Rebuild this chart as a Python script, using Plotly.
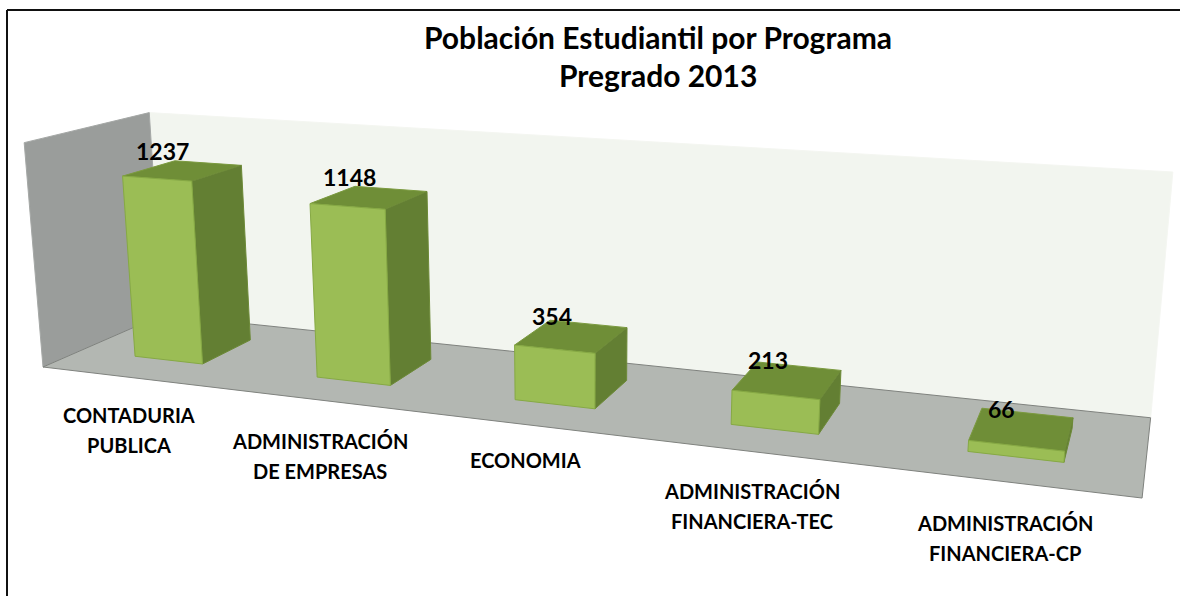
import plotly.graph_objects as go

# ---- data ----
categories = ["CONTADURIA\nPUBLICA", "ADMINISTRACIÓN\nDE EMPRESAS", "ECONOMIA",
              "ADMINISTRACIÓN\nFINANCIERA-TEC", "ADMINISTRACIÓN\nFINANCIERA-CP"]
values = [1237, 1148, 354, 213, 66]
title_lines = ["Población Estudiantil por Programa", "Pregrado 2013"]
axis_max = 1500

# ---- perspective camera used by the 3-D look of the chart ----
FOCAL, CX, CY = 1809.0, 578.0, 373.0
ORIGIN = (-535.0, -6.0, 1809.0)
X_VEC = (983.4, 105.4, -371.0)
D_VEC = (72.0, -58.7, 206.0)
H_VEC = (0.0, -216.5, -61.5)


def project(cat_pos, depth, value):
    """cat_pos in category units (0..n), depth 0..1, value in data units."""
    t, h = cat_pos / len(values), value / axis_max
    p = [ORIGIN[k] + t * X_VEC[k] + depth * D_VEC[k] + h * H_VEC[k] for k in range(3)]
    return CX + FOCAL * p[0] / p[2], CY + FOCAL * p[1] / p[2]


def face(corners, fill, line=None, width=1):
    pts = [project(*c) for c in corners + corners[:1]]
    return go.Scatter(x=[p[0] for p in pts], y=[p[1] for p in pts], mode="lines",
                      fill="toself", fillcolor=fill,
                      line=dict(color=line or fill, width=width),
                      hoverinfo="skip", showlegend=False)


fig = go.Figure()
n = len(values)
# walls and floor
fig.add_trace(face([(0, 1, 0), (n, 1, 0), (n, 1, axis_max), (0, 1, axis_max)], "#f2f5ef", "#f4f6f1"))
fig.add_trace(face([(0, 0, 0), (0, 1, 0), (0, 1, axis_max), (0, 0, axis_max)], "#9a9d9b", "#a5a8a6"))
fig.add_trace(face([(0, 0, 0), (n, 0, 0), (n, 1, 0), (0, 1, 0)], "#b3b7b2", "#7f827e"))

BAR_HALF = 0.19
D0, D1 = 0.30, 0.74
for i, v in enumerate(values):
    c = i + 0.5
    l, r = c - BAR_HALF, c + BAR_HALF
    fig.add_trace(face([(l, D0, v), (r, D0, v), (r, D1, v), (l, D1, v)], "#6f8e37", "#7b9a3f"))
    fig.add_trace(face([(r, D0, 0), (r, D1, 0), (r, D1, v), (r, D0, v)], "#637f33", "#6d8a38"))
    fig.add_trace(face([(l, D0, 0), (r, D0, 0), (r, D0, v), (l, D0, v)], "#9bbd55", "#86a944"))

annotations = []
FONT = "Lato, Carlito, 'Open Sans', sans-serif"
# data labels
for i, v in enumerate(values):
    px, py = project(i + 0.5, 0.52, v)
    annotations.append(dict(x=px, y=py, xref="x", yref="y", text=f"<b>{v}</b>", showarrow=False,
                            xshift=-20, yshift=20, font=dict(family=FONT, size=23, color="#000")))
# category labels (placed under the sloping floor edge)
LABEL_POS = [(129, 415), (320, 441), (525, 460), (752, 491), (1005, 523)]
LINE_GAP = 30
for cat, (lx, ly) in zip(categories, LABEL_POS):
    for k, part in enumerate(cat.split("\n")):
        annotations.append(dict(x=lx, y=ly + k * LINE_GAP, xref="x", yref="y", text=f"<b>{part}</b>",
                                showarrow=False, font=dict(family=FONT, size=20, color="#000")))
# title
for k, part in enumerate(title_lines):
    annotations.append(dict(x=658, y=37 + k * 38, xref="x", yref="y", text=f"<b>{part}</b>",
                            showarrow=False, font=dict(family=FONT, size=30, color="#000")))

fig.update_layout(
    width=1180, height=596, margin=dict(l=0, r=0, t=0, b=0),
    paper_bgcolor="white", plot_bgcolor="white", showlegend=False,
    xaxis=dict(range=[0, 1180], visible=False, fixedrange=True),
    yaxis=dict(range=[596, 0], visible=False, fixedrange=True),
    annotations=annotations,
    shapes=[
        dict(type="line", x0=7, x1=7, y0=10, y1=596, line=dict(color="#111", width=2)),
        dict(type="line", x0=7, x1=1180, y0=10, y1=10, line=dict(color="#111", width=2)),
    ],
)
fig.write_html("out.html", config=dict(displayModeBar=False),
               post_script="document.body.style.margin='0';document.documentElement.style.overflow='hidden';")
